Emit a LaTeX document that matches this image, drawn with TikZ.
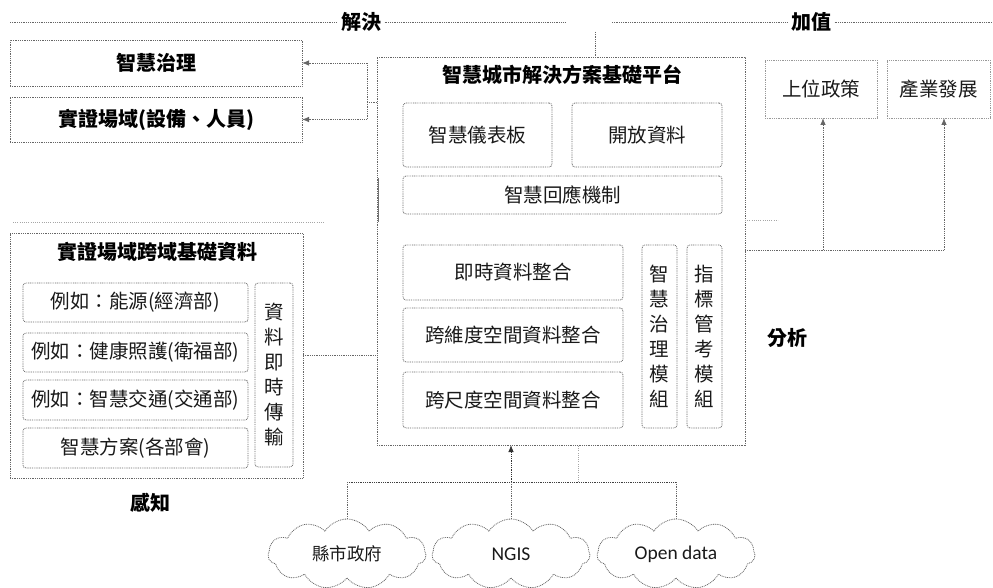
\documentclass[tikz,border=0pt]{standalone}
\usepackage{fontspec}
\setmainfont{Noto Sans CJK TC}
\newfontfamily\latinfont{Carlito}
\usetikzlibrary{shapes.symbols,arrows.meta}
\tikzset{
  dotline/.style={draw=black!60, line width=0.8pt, dash pattern=on 0.9pt off 0.9pt},
  faint/.style={draw=black!35, line width=0.6pt, dash pattern=on 0.8pt off 1.4pt},
  outerbox/.style={dotline, rectangle, inner sep=0pt, outer sep=0pt},
  innerbox/.style={dotline, rectangle, rounded corners=3pt, inner sep=0pt, outer sep=0pt,
    font=\fontsize{19.5}{25}\selectfont, text=black!90, align=center},
  titletext/.style={font=\fontsize{20}{24}\selectfont\bfseries, text=black},
  boldbox/.style={outerbox, font=\fontsize{20}{24}\selectfont\bfseries, text=black},
  arr/.style={dotline, -{Latex[length=7pt,width=5.5pt]}},
  cloudnode/.style={cloud, cloud puffs=11, cloud puff arc=115, cloud ignores aspect,
    dotline, minimum width=158pt, minimum height=70pt, inner sep=0pt},
}
\begin{document}
\begin{tikzpicture}[x=1pt,y=-1pt]
\useasboundingbox (0,0) rectangle (993,588);

% top labels and lines
\node[titletext] (solve) at (361,22) {解決};
\node[titletext] (addv) at (811,22) {加值};
\node[titletext] (anal) at (787,338) {分析};
\node[titletext] (sense) at (150,503) {感知};
\coordinate (tl0) at (10,22);
\coordinate (tl1) at (565,22);
\coordinate (tl2) at (612,22);
\coordinate (tl3) at (993,22);
\draw[dotline] (tl0) -- (solve.west);
\draw[dotline] (solve.east) -- (tl1);
\draw[dotline] (tl2) -- (addv.west);
\draw[dotline] (addv.east) -- (tl3);

% left top boxes
\node[boldbox, minimum width=292pt, minimum height=46pt] (gov) at (156,63) {智慧治理};
\node[boldbox, minimum width=292pt, minimum height=45pt] (field) at (156,119.5) {實證場域(設備、人員)};

% central platform
\node[outerbox, minimum width=368pt, minimum height=388pt] (plat) at (561,251) {};
\node[titletext] (plattitle) at (562,75) {智慧城市解決方案基礎平台};
\node[innerbox, minimum width=149pt, minimum height=64pt] (dash) at (477.5,135) {智慧儀表板};
\node[innerbox, minimum width=150pt, minimum height=64pt] (open) at (647,135) {開放資料};
\node[innerbox, minimum width=319pt, minimum height=38pt] (resp) at (562.5,195) {智慧回應機制};
\node[innerbox, minimum width=220pt, minimum height=55pt] (rt) at (513,272.5) {即時資料整合};
\node[innerbox, minimum width=220pt, minimum height=54pt] (dim) at (513,335) {跨維度空間資料整合};
\node[innerbox, minimum width=220pt, minimum height=56pt] (scl) at (513,400) {跨尺度空間資料整合};
\node[innerbox, minimum width=35pt, minimum height=183pt] (gmod) at (659.5,336.5) {智\\慧\\治\\理\\模\\組};
\node[innerbox, minimum width=35pt, minimum height=183pt] (imod) at (704.5,336.5) {指\\標\\管\\考\\模\\組};

% right boxes
\node[innerbox, rounded corners=0pt, draw=black!40, minimum width=112pt, minimum height=58pt] (policy) at (821,89) {上位政策};
\node[innerbox, rounded corners=0pt, draw=black!40, minimum width=103pt, minimum height=58pt] (ind) at (938.5,89) {產業發展};

% left data box
\node[outerbox, minimum width=293pt, minimum height=245pt] (left) at (156.5,355.5) {};
\node[titletext] (lefttitle) at (157,252) {實證場域跨域基礎資料};
\node[innerbox, minimum width=225pt, minimum height=39pt] (e1) at (135.5,302.5) {例如：能源(經濟部)};
\node[innerbox, minimum width=225pt, minimum height=39pt] (e2) at (135.5,352.5) {例如：健康照護(衛福部)};
\node[innerbox, minimum width=225pt, minimum height=40pt] (e3) at (135.5,400) {例如：智慧交通(交通部)};
\node[innerbox, minimum width=225pt, minimum height=40pt] (e4) at (135.5,448) {智慧方案(各部會)};
\node[innerbox, minimum width=38pt, minimum height=184pt] (trans) at (274,375) {資\\料\\即\\時\\傳\\輸};

% clouds
\node[cloudnode, font=\fontsize{17.5}{20}\selectfont, text=black!90] (c1) at (347,554) {縣市政府};
\node[cloudnode, font=\latinfont\fontsize{19.5}{22}\selectfont, text=black!90] (c2) at (511,554) {NGIS};
\node[cloudnode, font=\latinfont\fontsize{19.5}{22}\selectfont, text=black!90] (c3) at (676,554) {Open data};

% connectors: platform to top-left boxes
\coordinate (vt) at (595,32);
\draw[dotline] (vt) -- (vt |- plat.north);
\coordinate (j1) at (367,102);
\draw[dotline] (plat.west |- j1) -- (j1);
\draw[arr] (j1) |- (gov.east);
\draw[arr] (j1) |- (field.east);

% right connectors
\coordinate (r0) at (823,250);
\coordinate (r1) at (944,250);
\coordinate (st) at (778,220);
\draw[faint] (plat.east |- st) -- (st);
\draw[dotline] (plat.east |- r1) -- (r1);
\draw[arr] (r0) -- (r0 |- policy.south);
\draw[arr] (r1) -- (r1 |- ind.south);

% left box to platform
\draw[dotline] (left.east |- 0,355) -- (plat.west |- 0,355);

% artifacts
\coordinate (fl0) at (13,222);
\coordinate (fl1) at (325,222);
\draw[faint] (fl0) -- (fl1);
\coordinate (sk0) at (378,178);
\coordinate (sk1) at (378,222);
\draw[black!55, line width=1pt] (sk0) -- (sk1);

% bottom connectors
\coordinate (b0) at (511,482);
\coordinate (bf) at (578,482);
\draw[arr, draw=black!80] (b0) -- (b0 |- plat.south);
\draw[faint] (bf) -- (bf |- plat.south);
\draw[dotline, draw=black!75] (c1.north |- b0) -- (c3.north |- b0);
\draw[dotline] (c1.north |- b0) -- (c1.north);
\draw[dotline] (b0) -- (c2.north);
\draw[dotline] (c3.north |- b0) -- (c3.north);
\end{tikzpicture}
\end{document}
